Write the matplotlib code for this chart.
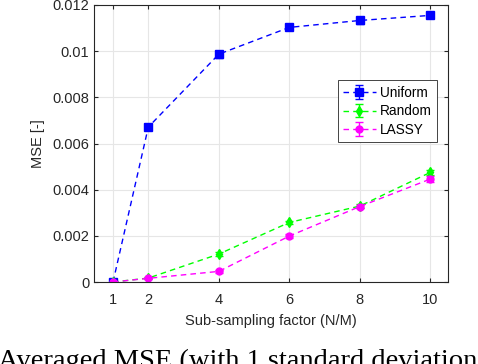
import numpy as np
import matplotlib
matplotlib.use("Agg")
import matplotlib.pyplot as plt

# sub-sampling factors and mean/std of MSE per method
factors = [1, 2, 4, 6, 8, 10]
uniform_mse = [0.0, 0.00671, 0.00987, 0.01103, 0.01133, 0.01155]
uniform_std = [0.00002, 0.00012, 0.00015, 0.00013, 0.00014, 0.00013]
random_mse = [0.0, 0.00017, 0.00121, 0.00258, 0.00329, 0.00475]
random_std = [0.00001, 0.00003, 0.00008, 0.00008, 0.00008, 0.00012]
lassy_mse = [0.0, 0.00016, 0.00046, 0.00199, 0.00327, 0.00446]
lassy_std = [0.00001, 0.00003, 0.00005, 0.00007, 0.00008, 0.00012]
yticks = [0, 0.002, 0.004, 0.006, 0.008, 0.01, 0.012]
ytick_labels = ["0", "0.002", "0.004", "0.006", "0.008", "0.01", "0.012"]

plt.rcParams["font.family"] = ["Liberation Sans", "DejaVu Sans"]

fig = plt.figure(figsize=(4.78, 3.64), dpi=100)
ax = fig.add_axes([94 / 478, 1 - 282 / 364, 354 / 478, 277 / 364])

series = [
	(uniform_mse, uniform_std, "#0000ff", "s", 6, "Uniform"),
	(random_mse, random_std, "#00ff00", "d", 5.5, "Random"),
	(lassy_mse, lassy_std, "#ff00ff", "o", 5, "LASSY"),
]
for mse, std, col, mk, ms, name in series:
	ax.errorbar(factors, mse, yerr=std, color=col, ls="--", lw=1.0, marker=mk,
		ms=ms, mfc=col, mec=col, capsize=3, elinewidth=1.0, capthick=1.0,
		dashes=(4, 3), label=name)

ax.set_xlim(0.46, 10.5)
ax.set_ylim(0, 0.012)
ax.set_xticks(factors)
ax.set_yticks(yticks)
ax.set_yticklabels(ytick_labels)
ax.grid(True, color="#e6e6e6", lw=0.8)
ax.set_axisbelow(True)
for s in ax.spines.values():
	s.set_color("#262626")
	s.set_linewidth(0.8)
ax.tick_params(direction="in", top=True, right=True, length=3, colors="#262626",
	labelsize=10.5, labelcolor="#262626")
ax.tick_params(axis="x", pad=8)
ax.set_xlabel("Sub-sampling factor (N/M)", fontsize=10.5, color="#262626", labelpad=5)
ax.set_ylabel("MSE [-]", fontsize=10.5, color="#262626", labelpad=5)

leg = ax.legend(loc="upper right", bbox_to_anchor=(0.969, 0.729), fontsize=9.8,
	fancybox=False, framealpha=1, edgecolor="#262626", borderpad=0.4,
	handlelength=2.4, handletextpad=0.3, labelspacing=0.35, borderaxespad=0)
leg.get_frame().set_linewidth(0.6)

fig.text(-0.005, -0.012, "Averaged MSE (with 1 standard deviation",
	family=["Liberation Serif", "DejaVu Serif"], fontsize=20.5, va="baseline", ha="left")

fig.savefig("out.png", dpi=100)
